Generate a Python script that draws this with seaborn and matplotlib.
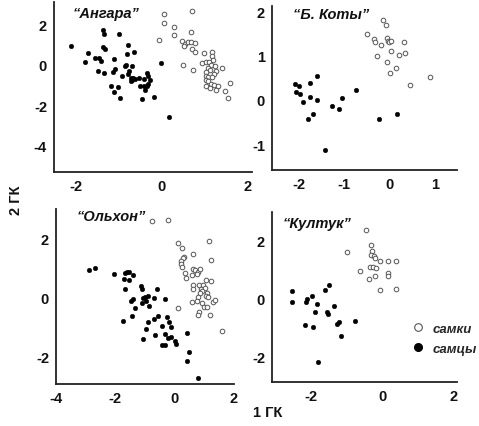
"""
PCA scatter, 4 populations: 1 ГК vs 2 ГК, females open / males filled
"""
import pandas as pd
import matplotlib
matplotlib.use('Agg')
import matplotlib.pyplot as plt
import seaborn as sns
from matplotlib.lines import Line2D

sns.set_style('white')
plt.rcParams['font.family'] = ['Liberation Sans', 'DejaVu Sans']
plt.rcParams['axes.unicode_minus'] = False

# ── Data ──────────────────────────────────────────────────────
# "Ангара"
ang_m_x = [-2.12, -1.73, -1.80, -1.57, -1.46, -1.43, -1.37, -1.35, -1.37, -1.33,
           -1.49, -1.36, -1.01, -1.12, -1.10, -1.15, -1.20, -1.02, -1.11, -0.98,
           -0.80, -0.82, -0.66, -0.87, -0.84, -0.71, -0.93, -0.80, -0.76, -0.73,
           -0.71, -0.67, -0.73, -0.62, -0.54, -0.43, -0.35, -0.33, -0.29, -0.43,
           -0.52, -0.36, -0.39, -0.46, -0.19, -0.02, -0.32, 0.16]
ang_m_y = [0.95, 0.59, 0.15, 0.34, 0.32, 0.20, 1.71, 1.54, 0.88, 0.78,
           -0.31, -0.41, 1.53, 0.30, -0.21, -0.36, -1.04, -1.09, -1.35, -1.63,
           1.00, 0.55, 0.63, -0.05, -0.01, -0.05, -0.54, -0.46, -0.33, -0.63,
           -0.74, -0.66, -0.80, -0.70, -0.66, -0.70, -0.41, -0.54, -0.74, -1.04,
           -1.07, -1.04, -1.27, -1.67, -1.60, 0.09, -0.95, -2.56]
ang_f_x = [0.05, 0.70, 0.04, 0.28, 0.68, 0.27, -0.08, 0.47, 0.54, 0.61,
           0.67, 0.77, 0.51, 0.71, 0.77, 0.98, 1.17, 1.17, 1.18, 0.94,
           1.02, 1.09, 1.15, 1.23, 0.50, 0.72, 1.40, 1.07, 1.12, 1.25,
           1.03, 1.21, 1.02, 1.08, 1.16, 1.02, 1.07, 1.15, 1.21, 1.30,
           1.03, 1.13, 1.27, 1.59, 1.48, 1.53]
ang_f_y = [2.53, 2.65, 2.08, 1.86, 1.64, 1.46, 1.23, 1.15, 1.03, 1.11,
           1.11, 1.06, 0.95, 0.78, 0.65, 0.59, 0.62, 0.42, 0.25, 0.09,
           0.14, 0.12, 0.00, -0.04, -0.01, -0.24, -0.14, -0.16, -0.25, -0.33,
           -0.38, -0.44, -0.54, -0.58, -0.61, -0.74, -0.82, -0.94, -0.99, -1.04,
           -1.04, -1.15, -1.24, -0.90, -1.29, -1.65]

# "Б. Коты"
bk_m_x = [-2.08, -1.99, -2.06, -1.96, -1.91, -1.74, -1.75, -1.59, -1.59, -1.69,
          -1.79, -1.41, -1.26, -1.12, -1.04, -0.73, -0.23, 0.16]
bk_m_y = [0.36, 0.31, 0.19, 0.13, -0.05, 0.38, 0.07, 0.55, 0.00, -0.32,
          -0.43, -1.12, -0.14, -0.20, 0.04, 0.22, -0.44, -0.32]
bk_f_x = [-0.14, -0.09, -0.49, -0.35, -0.33, -0.07, -0.03, -0.01, 0.02, -0.19,
          0.31, 0.02, -0.28, -0.06, 0.33, 0.21, 0.13, 0.00, 0.44, 0.87]
bk_f_y = [1.81, 1.70, 1.49, 1.37, 1.30, 1.39, 1.34, 1.30, 1.32, 1.24,
          1.30, 1.11, 1.00, 0.85, 1.06, 1.01, 0.73, 0.61, 0.34, 0.52]

# "Ольхон"
ol_m_x = [-2.89, -2.70, -2.04, -1.69, -1.62, -1.54, -1.42, -1.71, -1.55, -1.67,
          -1.12, -1.11, -0.59, -1.47, -1.40, -1.06, -0.99, -0.90, -0.95, -1.11,
          -0.70, -0.86, -0.34, -1.33, -1.43, -1.74, -0.57, -0.69, -0.26, -0.90,
          -0.18, -0.97, -0.42, -0.14, -0.65, -0.32, -0.24, -0.11, -1.06, -0.41,
          -0.32, 0.02, 0.04, 0.42, 0.50, 0.42, 0.78]
ol_m_y = [0.93, 0.99, 0.79, 0.82, 0.87, 0.85, 0.77, 0.62, 0.57, 0.27,
          0.37, 0.29, 0.28, -0.12, -0.06, -0.03, 0.00, 0.03, -0.12, -0.19,
          -0.02, -0.29, -0.07, -0.37, -0.64, -0.81, -0.64, -0.73, -0.67, -0.85,
          -0.83, -1.08, -0.98, -1.00, -1.28, -1.25, -1.40, -1.34, -1.42, -1.61,
          -1.61, -1.50, -1.59, -1.23, -1.87, -2.16, -2.75]
ol_f_x = [-0.75, -0.24, 0.10, 0.25, 1.15, 0.61, 1.24, 0.31, 0.27, 0.23,
          0.21, 0.25, 0.36, 0.38, 0.57, 0.62, 0.70, 0.79, 0.84, 0.76,
          1.04, 1.23, 0.62, 0.62, 0.81, 0.96, 0.89, 1.02, 0.93, 0.84,
          1.09, 1.04, 1.13, 0.79, 0.57, 0.76, 0.91, 0.98, 1.09, 1.30,
          1.37, 0.81, 0.78, 1.19, 0.11, 1.60]
ol_f_y = [2.59, 2.61, 1.84, 1.68, 1.91, 1.48, 1.28, 1.38, 1.33, 1.23,
          1.13, 1.02, 0.82, 0.66, 0.74, 0.96, 0.93, 0.85, 0.96, 0.79,
          0.57, 0.55, 0.42, 0.28, 0.42, 0.40, 0.28, 0.32, 0.20, 0.14,
          0.14, 0.05, 0.02, 0.00, -0.15, -0.14, -0.19, -0.32, -0.34, -0.17,
          -0.09, -0.51, -0.60, -0.60, -0.36, -1.14]

# "Култук"
ku_m_x = [-2.55, -2.55, -2.12, -2.14, -1.98, -1.62, -1.51, -1.84, -1.88, -1.56,
          -1.53, -1.36, -2.18, -1.94, -1.28, -1.23, -0.76, -1.15, -1.82]
ku_m_y = [0.27, -0.13, -0.02, -0.13, 0.10, 0.29, 0.48, -0.19, -0.48, -0.48,
          -0.54, -0.26, -0.92, -0.98, -0.87, -0.83, -0.79, -1.31, -2.21]
ku_f_x = [-0.47, -1.00, -0.31, -0.29, -0.31, -0.24, -0.21, -0.07, 0.15, 0.40,
          -0.35, -0.27, -0.18, -0.63, 0.16, 0.16, -0.21, -0.38, -0.05, 0.38]
ku_f_y = [2.38, 1.60, 1.86, 1.66, 1.52, 1.49, 1.39, 1.31, 1.31, 1.31,
          1.08, 1.08, 1.06, 0.94, 0.87, 0.79, 0.77, 0.68, 0.29, 0.33]

titles = ['\u201cАнгара\u201d', '\u201cБ. Коты\u201d', '\u201cОльхон\u201d', '\u201cКултук\u201d']
sex_labels = ['самки', 'самцы']

panels = [
    dict(title=titles[0], m=(ang_m_x, ang_m_y), f=(ang_f_x, ang_f_y),
         pos=[0.1127, 0.5948, 0.4134, 0.3981], xlim=(-2.52, 2.1), ylim=(-5.3, 3.1),
         xt=[-2, 0, 2], yt=[-4, -2, 0, 2], tpos=(0.096, 0.935)),
    dict(title=titles[1], m=(bk_m_x, bk_m_y), f=(bk_f_x, bk_f_y),
         pos=[0.5678, 0.5995, 0.3862, 0.3841], xlim=(-2.58, 1.47), ylim=(-1.58, 2.12),
         xt=[-2, -1, 0, 1], yt=[-1, 0, 1, 2], tpos=(0.114, 0.95)),
    dict(title=titles[2], m=(ol_m_x, ol_m_y), f=(ol_f_x, ol_f_y),
         pos=[0.1169, 0.0984, 0.3716, 0.4098], xlim=(-4.0, 2.0), ylim=(-2.95, 3.0),
         xt=[-4, -2, 0, 2], yt=[-2, 0, 2], tpos=(0.118, 0.96)),
    dict(title=titles[3], m=(ku_m_x, ku_m_y), f=(ku_f_x, ku_f_y),
         pos=[0.5678, 0.1030, 0.3862, 0.3981], xlim=(-3.1, 2.1), ylim=(-2.9, 3.0),
         xt=[-2, 0, 2], yt=[-2, 0, 2], tpos=(0.06, 0.935)),
]

fig = plt.figure(figsize=(4.79, 4.27), dpi=100)

for p in panels:
    ax = fig.add_axes(p['pos'])
    df_f = pd.DataFrame({'x': p['f'][0], 'y': p['f'][1]})
    df_m = pd.DataFrame({'x': p['m'][0], 'y': p['m'][1]})
    sns.scatterplot(data=df_f, x='x', y='y', ax=ax, s=11, color='white',
                    edgecolor='#555555', linewidth=0.7, legend=False, zorder=3)
    sns.scatterplot(data=df_m, x='x', y='y', ax=ax, s=11, color='black',
                    edgecolor='black', linewidth=0.3, legend=False, zorder=3)
    ax.set_xlim(*p['xlim'])
    ax.set_ylim(*p['ylim'])
    ax.set_xticks(p['xt'])
    ax.set_yticks(p['yt'])
    ax.set_xlabel('')
    ax.set_ylabel('')
    for side in ['top', 'right']:
        ax.spines[side].set_visible(False)
    for side in ['left', 'bottom']:
        ax.spines[side].set_color('#222222')
        ax.spines[side].set_linewidth(1.3)
    ax.tick_params(axis='both', length=2, width=0.8, pad=3, labelsize=10.5,
                   colors='#111111')
    for lab in ax.get_xticklabels() + ax.get_yticklabels():
        lab.set_fontweight('bold')
    ax.text(p['tpos'][0], p['tpos'][1], p['title'], transform=ax.transAxes,
            fontsize=10.5, fontweight='bold', fontstyle='italic',
            ha='left', va='center', color='#111111')

# legend in the last panel
handles = [
    Line2D([], [], marker='o', linestyle='', markersize=5.5,
           markerfacecolor='white', markeredgecolor='#555555', markeredgewidth=0.8),
    Line2D([], [], marker='o', linestyle='', markersize=5.5,
           markerfacecolor='black', markeredgecolor='black'),
]
leg = ax.legend(handles, sex_labels, loc='center left', bbox_to_anchor=(0.72, 0.255),
                frameon=False, handlelength=1.0, handletextpad=0.6, labelspacing=0.55,
                borderpad=0.0, prop={'weight': 'bold', 'style': 'italic', 'size': 9.5})

fig.text(0.033, 0.53, '2 ГК', rotation=90, ha='center', va='center',
         fontsize=10.5, fontweight='bold', color='#111111')
fig.text(0.559, 0.033, '1 ГК', ha='center', va='center',
         fontsize=10.5, fontweight='bold', color='#111111')

fig.savefig('out.png', dpi=100)
plt.close(fig)
